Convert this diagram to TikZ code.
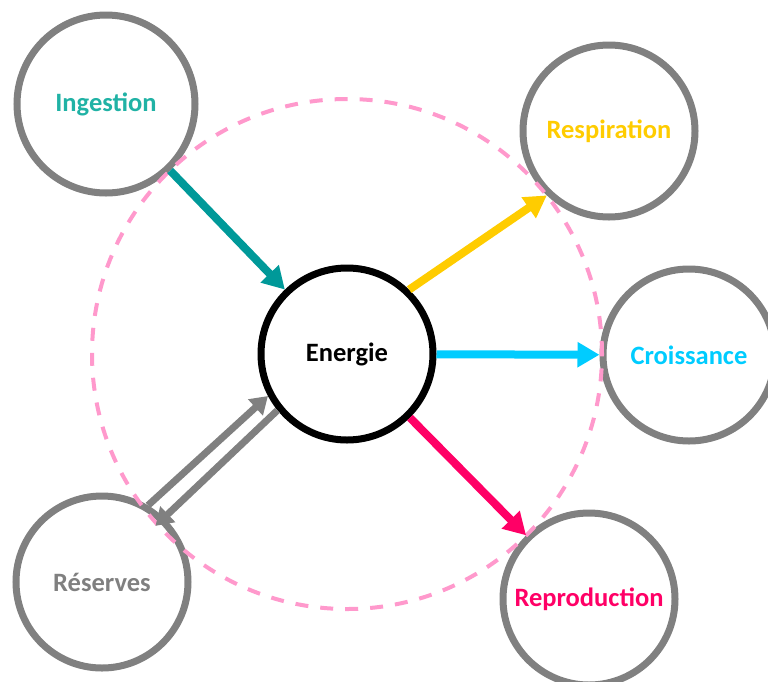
\documentclass[tikz,border=0pt]{standalone}
\usepackage{fontspec}
\setmainfont{Carlito}
\usetikzlibrary{arrows.meta}
\usepackage{xcolor}
\definecolor{ringGray}{RGB}{128,128,128}
\definecolor{ingestText}{RGB}{32,178,165}
\definecolor{ingestArrow}{RGB}{0,153,153}
\definecolor{respYellow}{RGB}{255,204,0}
\definecolor{croisBlue}{RGB}{0,204,255}
\definecolor{reproPink}{RGB}{255,0,102}
\definecolor{dashPink}{RGB}{255,153,204}

\begin{document}
\begin{tikzpicture}[x=1pt, y=-1pt,
    ring/.style={circle, draw=ringGray, line width=7pt, minimum size=172pt, inner sep=0pt, font=\bfseries\fontsize{26.5}{30}\selectfont},
    flow/.style={line width=8pt, -{Triangle[length=22pt, width=24pt]}},
    backflow/.style={line width=7pt, ringGray, -{Triangle[length=17pt, width=21pt]}}
]
\useasboundingbox (0,0) rectangle (768,681);

\node[ring, draw=black, text=black] (energie) at (347,354) {Energie};
\node[ring, minimum size=178pt, text=ingestText] (ingestion) at (106,104) {Ingestion};
\node[ring, text=respYellow] (respiration) at (609,131) {Respiration};
\node[ring, text=croisBlue] (croissance) at (689,355) {Croissance};
\node[ring, text=reproPink] (reproduction) at (589,599) {Reproduction};
\node[ring, text=ringGray] (reserves) at (102,582) {Réserves};

% dashed boundary around the energy node
\draw[dashPink, line width=4pt, dash pattern=on 13pt off 12pt] (energie.center) circle[radius=255pt];

\draw[flow, ingestArrow] (ingestion) -- (energie);
\draw[flow, respYellow] (energie.46) -- (respiration.226);
\draw[flow, croisBlue] (energie) -- (croissance);
\draw[flow, reproPink] (energie) -- (reproduction);
\draw[backflow] (reserves.59) -- (energie.208);
\draw[backflow, shorten >=-12pt] (energie.219) -- (reserves.46);
\end{tikzpicture}
\end{document}
